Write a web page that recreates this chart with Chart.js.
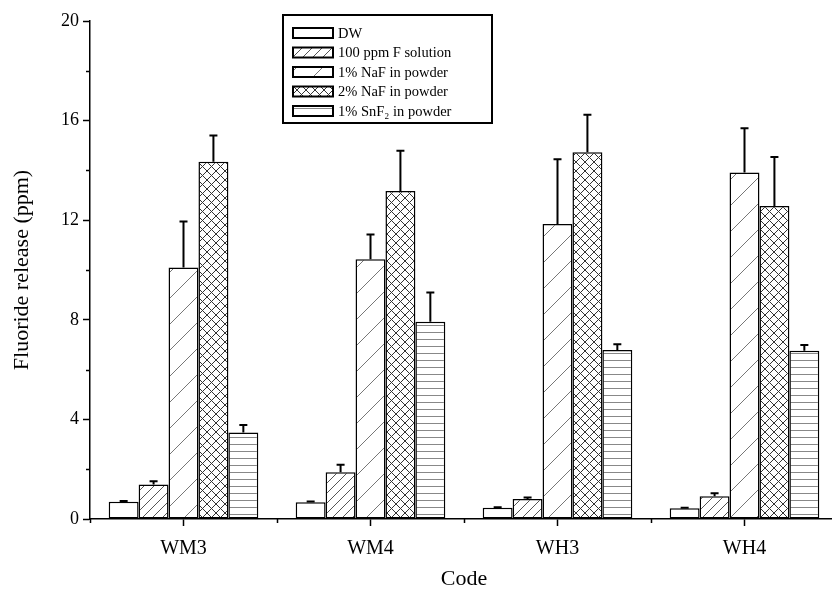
<!DOCTYPE html>
<html>
<head>
<meta charset="utf-8">
<script src="https://cdn.jsdelivr.net/npm/chart.js@4/dist/chart.umd.min.js"></script>
<style>
  html, body { margin: 0; padding: 0; background: #fff; overflow: hidden; }
  #chart { display: block; }
</style>
</head>
<body>
<canvas id="chart" width="840" height="597"></canvas>
<script>
// Data
const categories = ["WM3", "WM4", "WH3", "WH4"];
const seriesLabels = [
  "DW",
  "100 ppm F solution",
  "1% NaF in powder",
  "2% NaF in powder",
  "1% SnF\u2082 in powder",
];
const dwValues = [0.69, 0.67, 0.45, 0.43];
const dwErrors = [0.03, 0.03, 0.02, 0.02];
const fSolutionValues = [1.39, 1.88, 0.8, 0.91];
const fSolutionErrors = [0.13, 0.3, 0.06, 0.12];
const naf1Values = [10.1, 10.43, 11.85, 13.92];
const naf1Errors = [1.85, 1.0, 2.6, 1.77];
const naf2Values = [14.35, 13.17, 14.73, 12.57];
const naf2Errors = [1.05, 1.62, 1.5, 1.97];
const snf2Values = [3.47, 7.92, 6.79, 6.76];
const snf2Errors = [0.31, 1.18, 0.23, 0.23];
const yMinorTicks = [2, 6, 10, 14, 18];

const FONT = "'Liberation Serif', 'Times New Roman', serif";

// Hatch patterns
function makePattern(w, h, draw) {
  const c = document.createElement("canvas");
  c.width = w;
  c.height = h;
  const g = c.getContext("2d");
  g.fillStyle = "#fff";
  g.fillRect(0, 0, w, h);
  draw(g, w, h);
  return g.createPattern(c, "repeat");
}

function diagonal(size, color) {
  return makePattern(size, size, (g, w, h) => {
    g.strokeStyle = color;
    g.lineWidth = 1;
    g.beginPath();
    g.moveTo(-1, h + 1);
    g.lineTo(w + 1, -1);
    g.moveTo(-1, 1);
    g.lineTo(1, -1);
    g.moveTo(w - 1, h + 1);
    g.lineTo(w + 1, h - 1);
    g.stroke();
  });
}

const patterns = {
  blank: "#fff",
  denseDiag: diagonal(10, "#555"),
  sparseDiag: diagonal(26, "#777"),
  cross: makePattern(9, 9, (g, w, h) => {
    g.strokeStyle = "#333";
    g.lineWidth = 1;
    g.beginPath();
    g.moveTo(0, h);
    g.lineTo(w, 0);
    g.moveTo(0, 0);
    g.lineTo(w, h);
    g.stroke();
  }),
  horiz: makePattern(4, 7, (g, w, h) => {
    g.fillStyle = "#888";
    g.fillRect(0, 3, w, 1);
  }),
};

const fills = [patterns.blank, patterns.denseDiag, patterns.sparseDiag, patterns.cross, patterns.horiz];
const valueSets = [dwValues, fSolutionValues, naf1Values, naf2Values, snf2Values];
const errorSets = [dwErrors, fSolutionErrors, naf1Errors, naf2Errors, snf2Errors];

// Upper error bars
const errorBarPlugin = {
  id: "errorBars",
  afterDatasetsDraw(chart) {
    const ctx = chart.ctx;
    const yScale = chart.scales.y;
    ctx.save();
    ctx.strokeStyle = "#000";
    ctx.lineWidth = 2;
    chart.data.datasets.forEach((ds, i) => {
      const meta = chart.getDatasetMeta(i);
      meta.data.forEach((bar, j) => {
        const err = ds.errors[j];
        if (!err) return;
        const yTop = yScale.getPixelForValue(ds.data[j] + err);
        ctx.beginPath();
        ctx.moveTo(bar.x, bar.y);
        ctx.lineTo(bar.x, yTop);
        ctx.moveTo(bar.x - 4, yTop);
        ctx.lineTo(bar.x + 4, yTop);
        ctx.stroke();
      });
    });
    ctx.restore();
  },
};

// Minor ticks on both axes
const minorTickPlugin = {
  id: "minorTicks",
  afterDraw(chart) {
    const ctx = chart.ctx;
    const { left, bottom } = chart.chartArea;
    const xScale = chart.scales.x;
    const yScale = chart.scales.y;
    ctx.save();
    ctx.strokeStyle = "#000";
    ctx.lineWidth = 1.5;
    ctx.beginPath();
    yMinorTicks.forEach((v) => {
      const y = Math.round(yScale.getPixelForValue(v)) + 0.5;
      ctx.moveTo(left - 4, y);
      ctx.lineTo(left, y);
    });
    const step = xScale.width / categories.length;
    for (let k = 0; k <= categories.length; k++) {
      const x = Math.round(xScale.left + k * step) + 0.5;
      ctx.moveTo(x, bottom);
      ctx.lineTo(x, bottom + 4);
    }
    ctx.stroke();
    ctx.restore();
  },
};

// Boxed legend in the upper middle
const boxLegendPlugin = {
  id: "boxLegend",
  afterDraw(chart, args, opts) {
    const ctx = chart.ctx;
    ctx.save();
    ctx.strokeStyle = "#000";
    ctx.lineWidth = 2;
    ctx.strokeRect(opts.x, opts.y, opts.w, opts.h);
    ctx.font = "14.5px " + FONT;
    ctx.textBaseline = "middle";
    ctx.fillStyle = "#000";
    chart.data.datasets.forEach((ds, i) => {
      const cy = opts.y + 18 + i * 19.5;
      ctx.fillStyle = ds.backgroundColor;
      ctx.fillRect(opts.x + 10, cy - 5, 40, 10);
      ctx.lineWidth = 2;
      ctx.strokeRect(opts.x + 10, cy - 5, 40, 10);
      ctx.fillStyle = "#000";
      ctx.fillText(ds.label, opts.x + 55, cy + 1);
    });
    ctx.restore();
  },
};

new Chart(document.getElementById("chart"), {
  type: "bar",
  data: {
    labels: categories,
    datasets: seriesLabels.map((label, i) => ({
      label: label,
      data: valueSets[i],
      errors: errorSets[i],
      backgroundColor: fills[i],
      borderColor: "#000",
      borderWidth: 1.5,
      borderSkipped: false,
      categoryPercentage: 0.8,
      barPercentage: 1.0,
    })),
  },
  options: {
    responsive: false,
    animation: false,
    devicePixelRatio: 1,
    layout: {
      padding: { top: 21, right: 2, left: 0, bottom: 0 },
    },
    plugins: {
      legend: { display: false },
      tooltip: { enabled: false },
      boxLegend: { x: 283, y: 15, w: 209, h: 108 },
    },
    scales: {
      x: {
        offset: true,
        grid: {
          offset: false,
          drawOnChartArea: false,
          drawTicks: true,
          tickLength: 7,
          tickWidth: 1.5,
          tickColor: "#000",
        },
        border: { display: true, color: "#000", width: 1.5 },
        ticks: {
          color: "#000",
          padding: 11,
          font: { family: FONT, size: 20 },
        },
        title: {
          display: true,
          text: "Code",
          color: "#000",
          font: { family: FONT, size: 22 },
          padding: { top: 0, bottom: 5 },
        },
        afterFit(scale) {
          scale.height = 78;
        },
      },
      y: {
        min: 0,
        max: 20,
        grid: {
          drawOnChartArea: false,
          drawTicks: true,
          tickLength: 7,
          tickWidth: 1.5,
          tickColor: "#000",
        },
        border: { display: true, color: "#000", width: 1.5 },
        ticks: {
          stepSize: 4,
          color: "#000",
          padding: 4,
          font: { family: FONT, size: 18 },
        },
        title: {
          display: true,
          text: "Fluoride release (ppm)",
          color: "#000",
          font: { family: FONT, size: 22 },
          padding: { top: 9, bottom: 0 },
        },
        afterFit(scale) {
          scale.width = 90;
        },
      },
    },
  },
  plugins: [errorBarPlugin, minorTickPlugin, boxLegendPlugin],
});
</script>
</body>
</html>
